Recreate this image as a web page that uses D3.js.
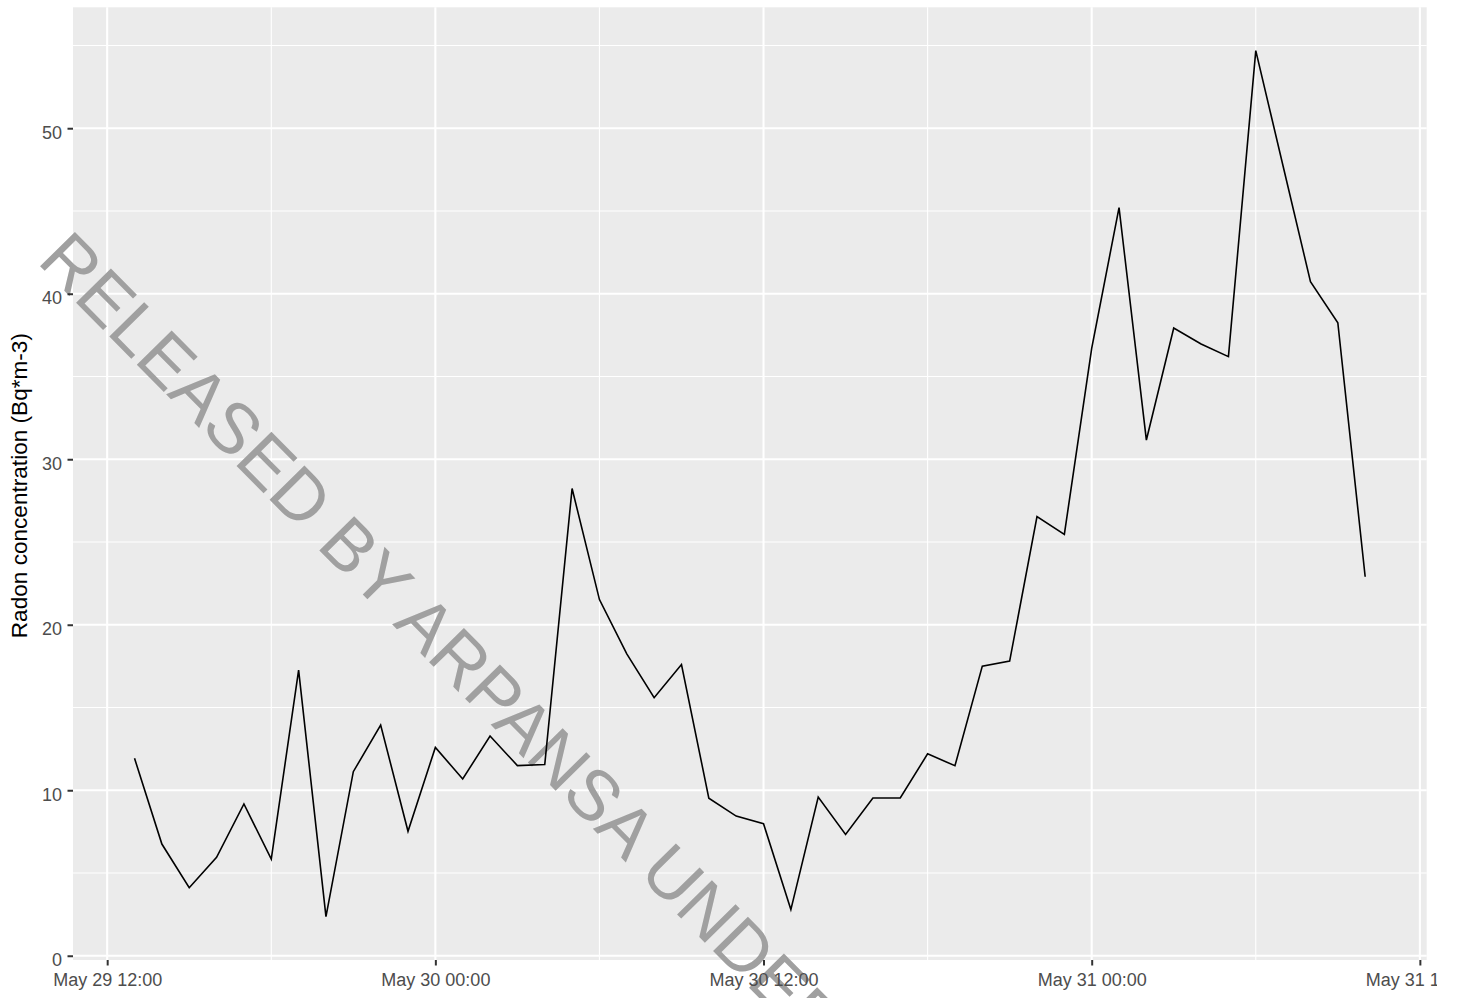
<!DOCTYPE html>
<html>
<head>
<meta charset="utf-8">
<script src="https://cdn.jsdelivr.net/npm/d3@7"></script>
<style>
  body { margin: 0; background: #fff; }
  text { font-family: "Liberation Sans", Arial, Helvetica, sans-serif; }
</style>
</head>
<body>
<div id="chart"></div>
<script>
// Hourly radon readings, May 29 13:00 to May 31 10:00
var times = [
  "2020-05-29 13:00", "2020-05-29 14:00", "2020-05-29 15:00", "2020-05-29 16:00",
  "2020-05-29 17:00", "2020-05-29 18:00", "2020-05-29 19:00", "2020-05-29 20:00",
  "2020-05-29 21:00", "2020-05-29 22:00", "2020-05-29 23:00", "2020-05-30 00:00",
  "2020-05-30 01:00", "2020-05-30 02:00", "2020-05-30 03:00", "2020-05-30 04:00",
  "2020-05-30 05:00", "2020-05-30 06:00", "2020-05-30 07:00", "2020-05-30 08:00",
  "2020-05-30 09:00", "2020-05-30 10:00", "2020-05-30 11:00", "2020-05-30 12:00",
  "2020-05-30 13:00", "2020-05-30 14:00", "2020-05-30 15:00", "2020-05-30 16:00",
  "2020-05-30 17:00", "2020-05-30 18:00", "2020-05-30 19:00", "2020-05-30 20:00",
  "2020-05-30 21:00", "2020-05-30 22:00", "2020-05-30 23:00", "2020-05-31 00:00",
  "2020-05-31 01:00", "2020-05-31 02:00", "2020-05-31 03:00", "2020-05-31 04:00",
  "2020-05-31 05:00", "2020-05-31 06:00", "2020-05-31 07:00", "2020-05-31 08:00",
  "2020-05-31 09:00", "2020-05-31 10:00"
];
var radon = [
  11.93, 6.75, 4.11, 5.95, 9.17, 5.84, 17.26, 2.36, 11.12, 13.94, 7.52, 12.59,
  10.68, 13.28, 11.49, 11.55, 28.23, 21.52, 18.24, 15.59, 17.6, 9.52, 8.44, 7.98,
  2.79, 9.59, 7.33, 9.53, 9.53, 12.2, 11.48, 17.5, 17.8, 26.53, 25.46, 36.7,
  45.2, 31.16, 37.93, 36.96, 36.2, 54.69, 47.7, 40.73, 38.25, 22.9
];
var xTickTimes = ["2020-05-29 12:00", "2020-05-30 00:00", "2020-05-30 12:00", "2020-05-31 00:00", "2020-05-31 12:00"];
var xTickLabels = ["May 29 12:00", "May 30 00:00", "May 30 12:00", "May 31 00:00", "May 31 12:00"];
var xMinorTimes = ["2020-05-29 18:00", "2020-05-30 06:00", "2020-05-30 18:00", "2020-05-31 06:00"];
var yTicks = [0, 10, 20, 30, 40, 50];
var yMinor = [5, 15, 25, 35, 45, 55];
var yTitle = "Radon concentration (Bq*m-3)";
var watermark = "RELEASED BY ARPANSA UNDER THE FOI ACT";

var parse = d3.utcParse("%Y-%m-%d %H:%M");
var data = times.map(function(t, i) { return { t: parse(t), v: radon[i] }; });

var width = 1437, height = 998;
var panel = { left: 73, right: 1426.7, top: 7.3, bottom: 960 };

var svg = d3.select("#chart").append("svg")
    .attr("width", width)
    .attr("height", height)
    .style("display", "block");

// ggplot-style 5% expansion
var tExt = d3.extent(data, function(d) { return d.t; });
var tPad = (tExt[1] - tExt[0]) * 0.05;
var x = d3.scaleUtc()
    .domain([new Date(+tExt[0] - tPad), new Date(+tExt[1] + tPad)])
    .range([panel.left, panel.right]);

var vExt = d3.extent(data, function(d) { return d.v; });
var vPad = (vExt[1] - vExt[0]) * 0.05;
var y = d3.scaleLinear()
    .domain([vExt[0] - vPad, vExt[1] + vPad])
    .range([panel.bottom, panel.top]);

// panel background
svg.append("rect")
    .attr("x", panel.left).attr("y", panel.top)
    .attr("width", panel.right - panel.left)
    .attr("height", panel.bottom - panel.top)
    .attr("fill", "#ebebeb");

var grid = svg.append("g");
grid.selectAll("line.ymin").data(yMinor).enter().append("line")
    .attr("x1", panel.left).attr("x2", panel.right)
    .attr("y1", function(d) { return y(d); }).attr("y2", function(d) { return y(d); })
    .attr("stroke", "#fff").attr("stroke-width", 1.1);
grid.selectAll("line.xmin").data(xMinorTimes).enter().append("line")
    .attr("y1", panel.top).attr("y2", panel.bottom)
    .attr("x1", function(d) { return x(parse(d)); }).attr("x2", function(d) { return x(parse(d)); })
    .attr("stroke", "#fff").attr("stroke-width", 1.1);
grid.selectAll("line.ymaj").data(yTicks).enter().append("line")
    .attr("x1", panel.left).attr("x2", panel.right)
    .attr("y1", function(d) { return y(d); }).attr("y2", function(d) { return y(d); })
    .attr("stroke", "#fff").attr("stroke-width", 2.1);
grid.selectAll("line.xmaj").data(xTickTimes).enter().append("line")
    .attr("y1", panel.top).attr("y2", panel.bottom)
    .attr("x1", function(d) { return x(parse(d)); }).attr("x2", function(d) { return x(parse(d)); })
    .attr("stroke", "#fff").attr("stroke-width", 2.1);

// watermark
svg.append("text")
    .attr("transform", "translate(36,262) rotate(45.5)")
    .attr("font-size", 71)
    .attr("fill", "#a0a0a0")
    .text(watermark);

// the series
var line = d3.line()
    .x(function(d) { return x(d.t); })
    .y(function(d) { return y(d.v); });
svg.append("path")
    .datum(data)
    .attr("d", line)
    .attr("fill", "none")
    .attr("stroke", "#000")
    .attr("stroke-width", 1.6)
    .attr("stroke-linejoin", "miter");

// axes
var xAxis = d3.axisBottom(x)
    .tickValues(xTickTimes.map(parse))
    .tickFormat(function(d, i) { return xTickLabels[i]; })
    .tickSize(5.5)
    .tickPadding(7.7);
var gx = svg.append("g")
    .attr("transform", "translate(0," + panel.bottom + ")")
    .call(xAxis);

var yAxis = d3.axisLeft(y)
    .tickValues(yTicks)
    .tickSize(5.5)
    .tickPadding(5.5);
var gy = svg.append("g")
    .attr("transform", "translate(" + panel.left + ",0)")
    .call(yAxis);

[gx, gy].forEach(function(g) {
    g.select(".domain").remove();
    g.selectAll(".tick line").attr("stroke", "#333").attr("stroke-width", 2);
    g.selectAll(".tick text")
        .attr("fill", "#4d4d4d")
        .attr("font-size", 18)
        .style("font-family", "'Liberation Sans', Arial, sans-serif");
});
gy.selectAll(".tick text").attr("dy", "0.55em");

svg.append("text")
    .attr("transform", "translate(27," + ((panel.top + panel.bottom) / 2 + 2) + ") rotate(-90)")
    .attr("text-anchor", "middle")
    .attr("font-size", 22.6)
    .attr("fill", "#000")
    .text(yTitle);
</script>
</body>
</html>
